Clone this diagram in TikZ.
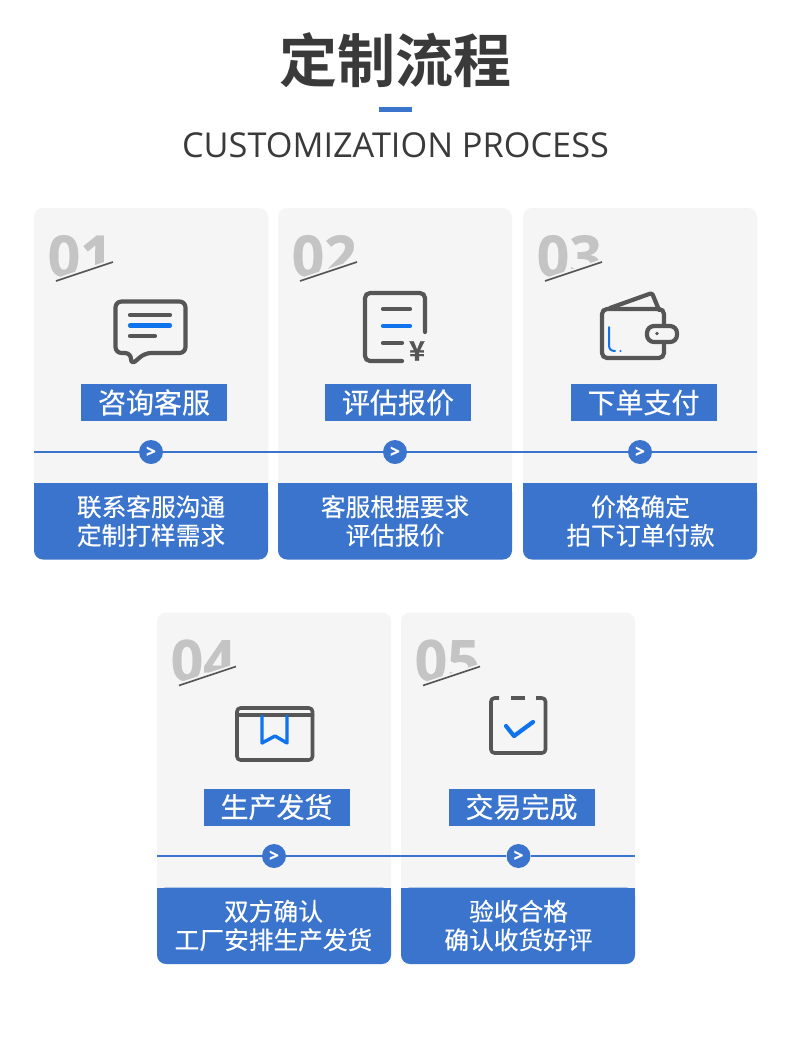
\documentclass[tikz,border=0pt]{standalone}
\usepackage{fontspec}
\newfontfamily\cjk[FakeBold=0.35]{Noto Sans CJK SC}
\newfontfamily\cjkbold{Noto Sans CJK SC Bold}
\newfontfamily\cjkyen[FakeBold=0.6]{Noto Sans CJK SC Bold}
\newfontfamily\latinsub{Open Sans}
\newfontfamily\numfont[FakeBold=0.4]{Open Sans Bold}
\newfontfamily\chevfont[FakeBold=1.2]{Open Sans Bold}
\definecolor{brandblue}{HTML}{3B74CD}
\definecolor{iconblue}{HTML}{0F73EE}
\definecolor{icongray}{HTML}{565656}
\definecolor{cardgray}{HTML}{F5F5F5}
\definecolor{numgray}{HTML}{C4C4C4}
\definecolor{headgray}{HTML}{3A3A3A}
\tikzset{
  titlebox/.style={fill=brandblue,text=white,minimum width=146pt,minimum height=37pt,inner sep=0pt,font=\cjk\fontsize{28}{30}\selectfont},
  bodytext/.style={text=white,align=center,inner sep=0pt,font=\cjk\fontsize{24.7}{28.5}\selectfont},
  dot/.style={circle,fill=brandblue,minimum size=24pt,inner sep=0pt,text=white,font=\chevfont\fontsize{17}{17}\selectfont},
  flowline/.style={draw=brandblue,line width=2pt},
  icon/.style={draw=icongray,line width=4.2pt,line cap=round,line join=round},
  iconb/.style={draw=iconblue,line width=4.2pt,line cap=round,line join=round},
}
% name, x, y, number, title, line 1, line 2, content shift
\newcommand{\stepcard}[8]{%
  \fill[cardgray,rounded corners=9pt] (#2,#3) rectangle (#2+234,#3+300);
  \fill[brandblue,rounded corners=9pt] (#2,#3+275) -- (#2,#3+351.5) -- (#2+234,#3+351.5) -- (#2+234,#3+275) -- cycle;
  \fill[brandblue] (#2,#3+275) rectangle (#2+234,#3+290);
  \begin{scope}
    \clip (#2+10,#3+10) -- (#2+85,#3+10) -- (#2+85,#3+49) -- (#2+10,#3+74) -- cycle;
    \node[anchor=west,inner sep=0pt,text=numgray,font=\numfont\fontsize{57}{57}\selectfont] (#1num) at (#2+13.5,#3+48) {#4};
  \end{scope}
  \coordinate (#1sa) at (#2+22,#3+73);
  \coordinate (#1sb) at (#2+79,#3+54);
  \draw[icongray,line width=1.7pt] (#1sa) -- (#1sb);
  \node[titlebox] (#1title) at (#2+120+#8,#3+194.5) {#5};
  \node[bodytext] (#1body) at (#2+117+#8,#3+313) {#6\\#7};
}
\begin{document}
\begin{tikzpicture}[x=1pt,y=-1pt]
\useasboundingbox (0,0) rectangle (790,1037);
\fill[white] (0,0) rectangle (790,1037);
% heading
\node[text=headgray,inner sep=0pt,font=\cjkbold\fontsize{58}{60}\selectfont] (head) at (395,60.5) {定制流程};
\fill[brandblue] (379,107) rectangle (412,112);
\node[text=headgray,inner sep=0pt,font=\latinsub\fontsize{34.3}{36}\selectfont] (sub) at (395.5,145) {CUSTOMIZATION PROCESS};
% cards
\stepcard{a}{34}{208}{01}{咨询客服}{联系客服沟通}{定制打样需求}{0}
\stepcard{b}{278}{208}{02}{评估报价}{客服根据要求}{评估报价}{0}
\stepcard{c}{523}{208}{03}{下单支付}{价格确定}{拍下订单付款}{0.5}
\stepcard{d}{157}{612.5}{04}{生产发货}{双方确认}{工厂安排生产发货}{-0.5}
\stepcard{e}{401}{612.5}{05}{交易完成}{验收合格}{确认收货好评}{0.5}
% flow lines
\coordinate (la) at (34,452);
\coordinate (lb) at (757,452);
\node[dot] (ca) at (151,452) {>};
\node[dot] (cb) at (395,452) {>};
\node[dot] (cc) at (640,452) {>};
\draw[flowline] (la) -- (ca);
\draw[flowline] (ca) -- (cb);
\draw[flowline] (cb) -- (cc);
\draw[flowline] (cc) -- (lb);
\coordinate (ld) at (157,856);
\coordinate (le) at (635,856);
\node[dot] (cd) at (274,856) {>};
\node[dot] (ce) at (518.5,856) {>};
\draw[flowline] (ld) -- (cd);
\draw[flowline] (cd) -- (ce);
\draw[flowline] (ce) -- (le);
% icon 1 speech bubble
\draw[icon,rounded corners=6pt] (131,353) -- (131,365) -- (145,353) -- (185.5,353) -- (185.5,301.5) -- (115.5,301.5) -- (115.5,353) -- cycle;
\draw[icon] (130,315) -- (170,315);
\draw[iconb] (130,325.5) -- (170,325.5);
\draw[icon] (130,336) -- (155,336);
% icon 2 bill
\draw[icon,rounded corners=5pt] (425,332) -- (425,293) -- (365,293) -- (365,361) -- (402,361);
\draw[icon] (383,309) -- (410,309);
\draw[iconb] (383,326) -- (410,326);
\draw[icon] (383,343) -- (402,343);
\node[text=icongray,inner sep=0pt,font=\cjkyen\fontsize{27}{27}\selectfont] (yen) at (417,351) {¥};
% icon 3 wallet
\draw[icon,rounded corners=1.5pt] (610,308) -- (652,293) -- (659,310);
\draw[icon,rounded corners=5pt] (664,326) -- (664,309) -- (602,309) -- (602,358) -- (664,358) -- (664,342);
\draw[icon,fill=cardgray,rounded corners=7pt] (647,326) rectangle (677,342);
\fill[icongray] (657,333.5) circle (1.9pt);
\draw[draw=iconblue,line width=2pt,line cap=round] (609,327) -- (609,345) .. controls (609,349) and (611,351) .. (615,351);
\fill[iconblue] (620.5,351) circle (1.2pt);
% icon 4 box
\draw[icon,line width=3.6pt,rounded corners=3.5pt] (237,708) rectangle (312.5,760);
\draw[icon,line width=3.6pt] (237,715) -- (312.5,715);
\draw[iconb,line width=3.4pt] (262,716) -- (262,743) -- (275,736) -- (287,743) -- (287,716);
% icon 5 check
\draw[icon,line width=3.6pt,line cap=butt,rounded corners=3.5pt] (499,698) -- (491,698) -- (491,753) -- (545.5,753) -- (545.5,698) -- (536,698);
\draw[icon,line width=3.6pt,line cap=butt] (511,698) -- (525,698);
\draw[iconb] (506,726) -- (514,736) -- (533,722);
\end{tikzpicture}
\end{document}
